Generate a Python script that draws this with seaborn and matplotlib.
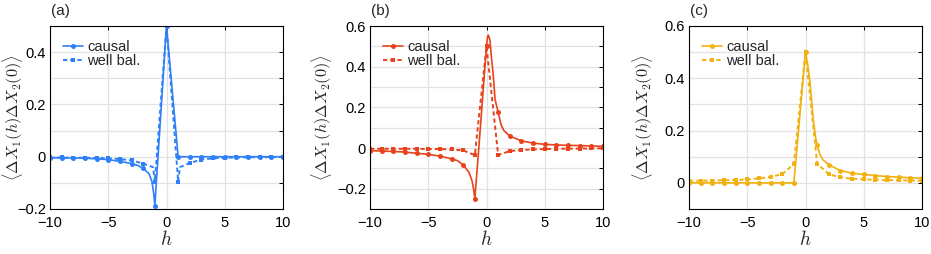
import numpy as np
import pandas as pd
import matplotlib
matplotlib.use("Agg")
import matplotlib.pyplot as plt
import seaborn as sns
from matplotlib.ticker import MultipleLocator, FuncFormatter

# integer lags where the markers sit
h_int = list(range(-10, 11))

# panel (a)
a_causal = [-0.004, -0.004, -0.005, -0.006, -0.008, -0.011, -0.018, -0.026, -0.045, -0.187,
            0.5, 0.0, 0.0, 0.0, 0.0, 0.0, 0.0, 0.0, 0.0, 0.0, 0.0]
a_causal_xh = [-2.5, -1.5, -1.25, -1.1]
a_causal_x = [-0.033, -0.065, -0.095, -0.14]
a_wb = [-0.003, -0.003, -0.004, -0.004, -0.005, -0.006, -0.009, -0.014, -0.026, -0.096,
        0.5, -0.096, -0.024, -0.011, -0.006, -0.004, -0.003, -0.002, -0.002, -0.001, -0.001]
a_wb_xh = [-1.15, 1.15]
a_wb_x = [-0.04, -0.04]

# panel (b)
b_causal = [-0.013, -0.015, -0.017, -0.020, -0.026, -0.031, -0.040, -0.053, -0.083, -0.249,
            0.5, 0.176, 0.059, 0.035, 0.024, 0.018, 0.015, 0.013, 0.012, 0.010, 0.008]
b_causal_xh = [-2.5, -1.5, -1.25, -1.1, -0.5, 0.08, 0.16, 0.3, 0.4, 0.58, 0.73, 1.25, 1.5]
b_causal_x = [-0.062, -0.12, -0.16, -0.205, 0.12, 0.545, 0.555, 0.53, 0.46, 0.36, 0.24, 0.115, 0.085]
b_wb = [-0.004, -0.004, -0.004, -0.004, -0.004, -0.005, -0.005, -0.007, -0.012, -0.035,
        0.5, -0.035, -0.015, -0.010, -0.007, -0.005, -0.004, -0.003, -0.003, -0.002, -0.002]
b_wb_xh = []
b_wb_x = []

# panel (c)
c_causal = [0.0, 0.0, 0.0, 0.0, 0.0, 0.0, 0.0, 0.0, 0.0, 0.0,
            0.5, 0.146, 0.069, 0.047, 0.037, 0.032, 0.028, 0.024, 0.022, 0.019, 0.018]
c_causal_xh = [0.2, 0.4, 0.67, 0.9, 1.25, 1.5]
c_causal_x = [0.45, 0.38, 0.24, 0.165, 0.108, 0.088]
c_wb = [0.008, 0.008, 0.009, 0.010, 0.011, 0.013, 0.017, 0.023, 0.033, 0.072,
        0.5, 0.074, 0.033, 0.021, 0.016, 0.013, 0.012, 0.010, 0.010, 0.009, 0.008]
c_wb_xh = []
c_wb_x = []

panels = [
    ("(a)", "#2F80F8", (-0.2, 0.5), a_causal, a_causal_xh, a_causal_x, a_wb, a_wb_xh, a_wb_x),
    ("(b)", "#E8431C", (-0.3, 0.6), b_causal, b_causal_xh, b_causal_x, b_wb, b_wb_xh, b_wb_x),
    ("(c)", "#F2B10F", (-0.1, 0.6), c_causal, c_causal_xh, c_causal_x, c_wb, c_wb_xh, c_wb_x),
]


def build(vals, xh, xv):
    df = pd.DataFrame({"h": h_int + xh, "v": vals + xv}).sort_values("h").reset_index(drop=True)
    marks = [i for i, hv in enumerate(df["h"]) if float(hv).is_integer()]
    return df, marks


sns.set_theme(style="white")
plt.rcParams["font.family"] = ["Liberation Sans", "DejaVu Sans"]
plt.rcParams["mathtext.fontset"] = "cm"
plt.rcParams["axes.edgecolor"] = "black"
plt.rcParams["axes.linewidth"] = 0.8

fig = plt.figure(figsize=(9.31, 2.54), dpi=100)
lefts = [50, 370, 689]
label_right = [25, 334, 655]
tick_fmt = FuncFormatter(lambda v, p: f"{v:g}".replace("-", "\u2212") if abs(v) > 1e-9 else "0")

for k, (tag, col, ylim, cv, cxh, cx, wv, wxh, wx) in enumerate(panels):
    ax = fig.add_axes([lefts[k] / 931, 45 / 254, 233 / 931, 183 / 254])
    dfc, mc = build(cv, cxh, cx)
    dfw, mw = build(wv, wxh, wx)
    sns.lineplot(data=dfc, x="h", y="v", ax=ax, color=col, lw=1.2, sort=False,
                 marker="o", markersize=3.6, markeredgewidth=0, markevery=mc, label="causal")
    sns.lineplot(data=dfw, x="h", y="v", ax=ax, color=col, lw=1.4, sort=False,
                 linestyle=(0, (2.2, 1.5)), marker="s", markersize=3.2, markeredgewidth=0,
                 markevery=mw, label="well bal.")

    ax.set_xlim(-10, 10)
    ax.set_ylim(*ylim)
    ax.xaxis.set_major_locator(MultipleLocator(5))
    ax.yaxis.set_major_locator(MultipleLocator(0.2))
    ax.yaxis.set_minor_locator(MultipleLocator(0.1))
    ax.xaxis.set_major_formatter(tick_fmt)
    ax.yaxis.set_major_formatter(tick_fmt)
    ax.grid(True, which="both", axis="y", color="#e2e2e2", lw=0.9)
    ax.grid(True, which="major", axis="x", color="#e2e2e2", lw=0.9)
    ax.set_axisbelow(True)
    ax.tick_params(which="both", direction="in", length=3, width=0.7, top=True, right=True,
                   labelsize=10.5, colors="black", pad=3)
    ax.tick_params(axis="x", pad=5)
    for s in ax.spines.values():
        s.set_color("black")
        s.set_linewidth(0.8)

    ax.set_xlabel("$h$", fontsize=14, labelpad=0)
    ax.set_ylabel(r"$\langle \Delta X_1(h)\Delta X_2(0)\rangle$", fontsize=11.8)
    ax.yaxis.set_label_coords((label_right[k] - lefts[k]) / 233, 0.5)

    ax.legend(loc="upper left", frameon=False, fontsize=10.5, handlelength=1.4,
              handletextpad=0.25, labelspacing=0.0, borderaxespad=0.0,
              bbox_to_anchor=(0.03, 0.955))
    fig.text((lefts[k] + 1) / 931, 1 - 11 / 254, tag, fontsize=11, va="center", ha="left")

fig.savefig("out.png", dpi=100)
